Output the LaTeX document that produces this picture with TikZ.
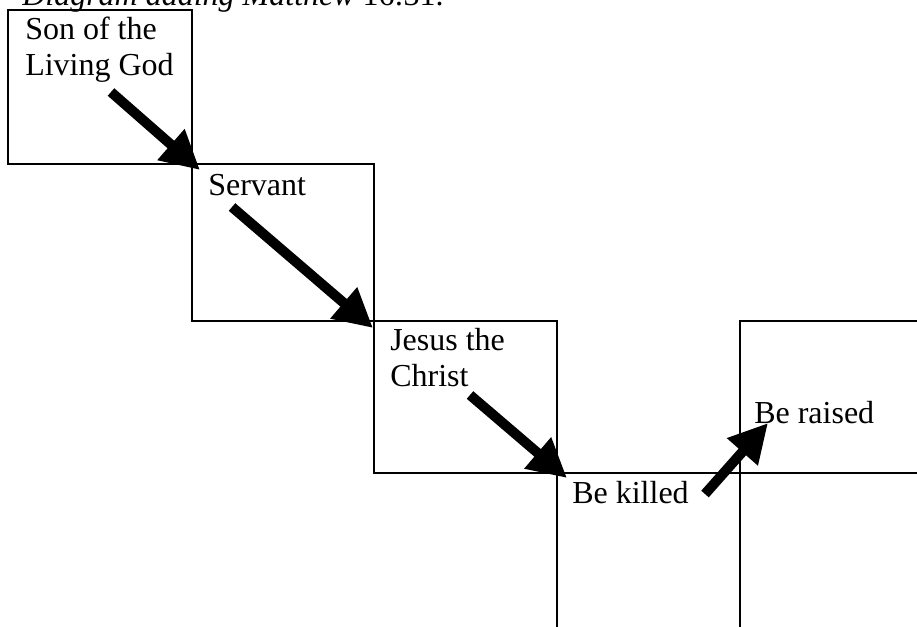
\documentclass[tikz,border=0pt]{standalone}
\usepackage{fontspec}
\setmainfont{Liberation Serif}
\usetikzlibrary{arrows.meta}
\begin{document}
\begin{tikzpicture}[x=0.75pt,y=-0.75pt,
  box/.style={draw,line width=1.5pt},
  lbl/.style={anchor=base west,inner sep=0pt,font=\fontsize{24}{27.6}\selectfont},
  bigarrow/.style={line width=7.5pt,-{Triangle[length=29pt,width=29pt]}}]
\useasboundingbox (0,0) rectangle (917,626);
\clip (0,0) rectangle (917,626);

% heading, partly above the frame
\node[lbl] (title) at (22,5) {\itshape Diagram adding Matthew\/ \upshape 16:31.};

% staircase of boxes
\draw[box] (8,10) rectangle (192,164);
\draw[box] (192,164) rectangle (374,321);
\draw[box] (374,321) rectangle (557,473);
\draw[box] (557,473) rectangle (740,650);
\draw[box] (740,321) rectangle (940,473);

% labels
\node[lbl] (son) at (25,39) {\vtop{\baselineskip=27.6pt\hbox{Son of the}\hbox{Living God}}};
\node[lbl] (servant) at (208,195) {Servant};
\node[lbl] (christ) at (390,350) {\vtop{\baselineskip=27.6pt\hbox{Jesus the}\hbox{Christ}}};
\node[lbl] (killed) at (572,503) {Be killed};
\node[lbl] (raised) at (754,423) {Be raised};

% arrow end points
\coordinate (a1s) at (111,92);
\coordinate (a1e) at (200,170);
\coordinate (a2s) at (232,207);
\coordinate (a2e) at (373,328);
\coordinate (a3s) at (470,395);
\coordinate (a3e) at (567,478);
\coordinate (a4s) at (705,494);
\coordinate (a4e) at (768,423);

\draw[bigarrow] (a1s) -- (a1e);
\draw[bigarrow] (a2s) -- (a2e);
\draw[bigarrow] (a3s) -- (a3e);
\draw[bigarrow] (a4s) -- (a4e);
\end{tikzpicture}
\end{document}
